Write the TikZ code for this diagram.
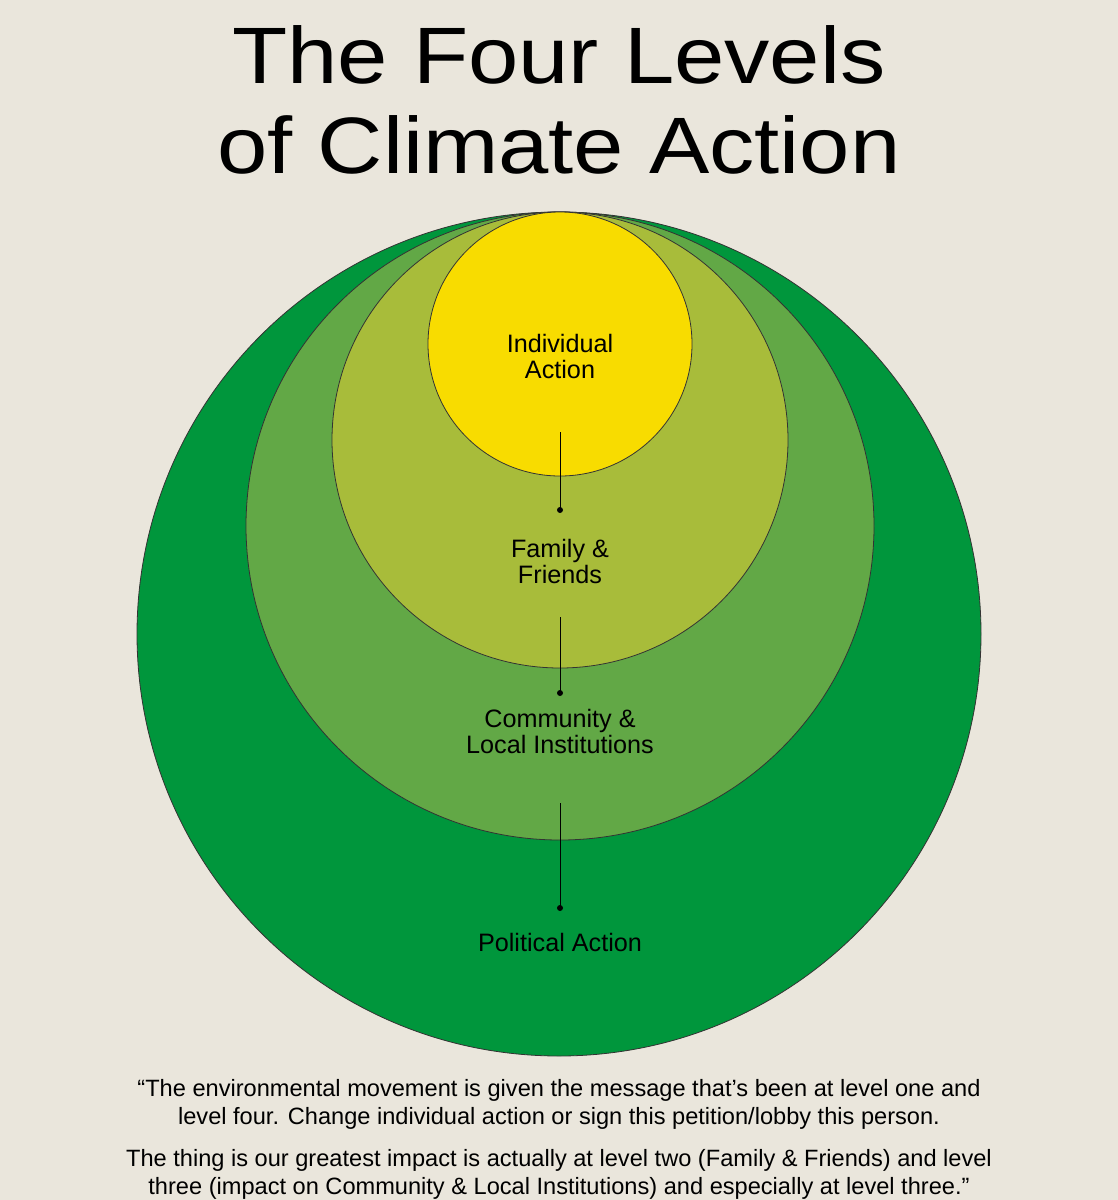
\documentclass[tikz,border=0pt]{standalone}
\usepackage{fontspec}
\setmainfont{Liberation Sans}
\usetikzlibrary{positioning}
\definecolor{bgcol}{RGB}{234,230,220}
\definecolor{levelfour}{RGB}{0,150,60}
\definecolor{levelthree}{RGB}{98,168,70}
\definecolor{leveltwo}{RGB}{168,188,58}
\definecolor{levelone}{RGB}{248,220,0}
\tikzset{
  ring/.style={draw=black!80, line width=0.4pt},
  lvl/.style={align=center, font=\fontsize{12.6}{13}\selectfont},
  stem/.style={draw=black, line width=0.5pt},
  headline/.style={anchor=base, xscale=1.13, font=\fontsize{40}{40}\selectfont},
  quote/.style={align=center, font=\fontsize{11.8}{14}\selectfont}
}
\begin{document}
\begin{tikzpicture}[x=0.5pt,y=-0.5pt]
  \fill[bgcol] (0,0) rectangle (1118,1200);
  \useasboundingbox (0,0) rectangle (1118,1200);

  % title
  \node[headline] (title1) at (559,83) {The Four Levels};
  \node[headline] (title2) at (559,173) {of Climate Action};

  % nested circles, all touching at the top
  \fill[levelfour, ring]  (559,634) circle (422);
  \fill[levelthree, ring] (560,526) circle (314);
  \fill[leveltwo, ring]   (560,440) circle (228);
  \fill[levelone, ring]   (560,344) circle (132);

  % level labels
  \node[lvl] (one)   at (560,356) {Individual\\Action};
  \node[lvl] (two)   at (560,561) {Family \&\\Friends};
  \node[lvl] (three) at (560,731) {Community \&\\Local Institutions};
  \node[lvl] (four)  at (560,942) {Political Action};

  % stems with dots
  \coordinate (s1) at (560,432); \coordinate (d1) at (560,510);
  \coordinate (s2) at (560,617); \coordinate (d2) at (560,693);
  \coordinate (s3) at (560,803); \coordinate (d3) at (560,908);
  \foreach \s/\d in {s1/d1,s2/d2,s3/d3}{
    \draw[stem] (\s) -- (\d);
    \fill (\d) circle (3);
  }

  % quote
  \node[quote] (q1) at (559,1104)
    {“The environmental movement is given the message that’s been at level one and\\
     level four. Change individual action or sign this petition/lobby this person.};
  \node[quote] (q2) at (559,1174)
    {The thing is our greatest impact is actually at level two (Family \& Friends) and level\\
     three (impact on Community \& Local Institutions) and especially at level three.”};
\end{tikzpicture}
\end{document}
